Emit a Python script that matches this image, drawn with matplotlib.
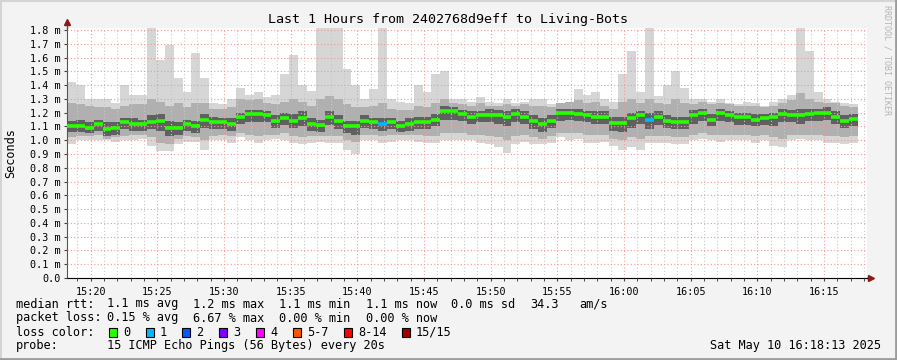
import matplotlib
matplotlib.use('Agg')
import matplotlib.pyplot as plt
from matplotlib.patches import Rectangle
from matplotlib.lines import Line2D
from matplotlib.ticker import FuncFormatter, FixedLocator
import numpy as np

# smokeping data, 40 s steps from 15:18:13, values in ms
median = [1.10, 1.10, 1.09, 1.12, 1.08, 1.09, 1.13, 1.12, 1.115, 1.13,
          1.14, 1.09, 1.09, 1.12, 1.10, 1.15, 1.13, 1.13, 1.12, 1.17,
          1.19, 1.19, 1.18, 1.14, 1.16, 1.14, 1.16, 1.12, 1.11, 1.17,
          1.14, 1.10, 1.10, 1.14, 1.13, 1.12, 1.13, 1.10, 1.12, 1.13,
          1.13, 1.15, 1.21, 1.21, 1.19, 1.17, 1.18, 1.185, 1.185, 1.17,
          1.19, 1.17, 1.14, 1.12, 1.14, 1.20, 1.20, 1.19, 1.18, 1.17,
          1.17, 1.125, 1.125, 1.16, 1.18, 1.15, 1.17, 1.14, 1.13, 1.13,
          1.18, 1.20, 1.15, 1.20, 1.18, 1.165, 1.165, 1.15, 1.16, 1.165,
          1.19, 1.18, 1.18, 1.19, 1.20, 1.20, 1.17, 1.14, 1.155]
loss = [0] * 89
loss[35] = 1
loss[65] = 1

ping_max = [1.42, 1.40, 1.30, 1.30, 1.30, 1.27, 1.40, 1.33, 1.33, 1.82,
            1.58, 1.69, 1.45, 1.35, 1.63, 1.45, 1.27, 1.26, 1.30, 1.38,
            1.33, 1.35, 1.31, 1.33, 1.48, 1.62, 1.40, 1.36, 1.82, 1.82,
            1.82, 1.52, 1.40, 1.30, 1.37, 1.82, 1.30, 1.28, 1.27, 1.40,
            1.35, 1.48, 1.50, 1.30, 1.30, 1.28, 1.31, 1.28, 1.27, 1.30,
            1.27, 1.28, 1.30, 1.30, 1.26, 1.27, 1.27, 1.37, 1.33, 1.35,
            1.30, 1.28, 1.48, 1.65, 1.35, 1.82, 1.32, 1.40, 1.50, 1.38,
            1.30, 1.30, 1.28, 1.30, 1.27, 1.26, 1.28, 1.27, 1.25, 1.28,
            1.30, 1.33, 1.82, 1.65, 1.35, 1.30, 1.28, 1.27, 1.26]
ping_min = [0.97, 1.00, 1.00, 1.00, 1.00, 0.99, 1.00, 1.00, 1.01, 0.96,
            0.92, 0.92, 0.97, 0.99, 0.99, 0.93, 1.00, 1.00, 0.98, 1.02,
            1.00, 0.98, 1.00, 1.01, 1.00, 0.98, 0.97, 0.98, 0.99, 0.98,
            0.98, 0.93, 0.90, 1.00, 1.00, 0.98, 0.99, 1.00, 1.00, 0.99,
            0.98, 0.98, 1.00, 1.00, 1.00, 1.00, 0.98, 0.97, 0.95, 0.91,
            0.97, 0.99, 0.97, 0.97, 0.98, 1.02, 1.00, 1.01, 0.98, 0.98,
            0.99, 0.96, 0.93, 0.95, 0.93, 0.98, 0.98, 0.98, 0.97, 0.97,
            1.00, 1.01, 1.00, 0.99, 1.00, 1.00, 1.00, 0.98, 1.00, 0.96,
            0.95, 1.00, 1.01, 1.00, 1.00, 0.98, 0.98, 0.97, 0.98]
mid_hi = [1.27, 1.26, 1.25, 1.24, 1.24, 1.23, 1.25, 1.26, 1.26, 1.30,
          1.28, 1.25, 1.27, 1.24, 1.27, 1.27, 1.23, 1.23, 1.24, 1.30,
          1.29, 1.30, 1.27, 1.26, 1.28, 1.30, 1.28, 1.25, 1.30, 1.32,
          1.30, 1.26, 1.24, 1.24, 1.25, 1.27, 1.23, 1.22, 1.22, 1.25,
          1.24, 1.27, 1.30, 1.27, 1.26, 1.25, 1.27, 1.25, 1.25, 1.26,
          1.25, 1.26, 1.25, 1.25, 1.24, 1.27, 1.28, 1.29, 1.27, 1.28,
          1.25, 1.23, 1.28, 1.30, 1.27, 1.30, 1.27, 1.26, 1.30, 1.27,
          1.26, 1.28, 1.26, 1.27, 1.26, 1.25, 1.25, 1.25, 1.24, 1.25,
          1.27, 1.29, 1.34, 1.30, 1.28, 1.27, 1.27, 1.25, 1.24]
mid_lo = [1.02, 1.03, 1.03, 1.04, 1.01, 1.02, 1.03, 1.04, 1.04, 1.02,
          0.98, 0.97, 1.01, 1.03, 1.02, 1.00, 1.03, 1.04, 1.03, 1.05,
          1.04, 1.03, 1.04, 1.04, 1.05, 1.03, 1.02, 1.03, 1.03, 1.03,
          1.03, 1.00, 0.99, 1.04, 1.04, 1.03, 1.04, 1.04, 1.04, 1.04,
          1.03, 1.03, 1.05, 1.05, 1.05, 1.04, 1.04, 1.03, 1.02, 1.00,
          1.03, 1.04, 1.02, 1.01, 1.03, 1.05, 1.05, 1.05, 1.04, 1.04,
          1.04, 1.01, 1.00, 1.02, 1.01, 1.03, 1.03, 1.03, 1.02, 1.02,
          1.04, 1.05, 1.04, 1.04, 1.04, 1.04, 1.04, 1.03, 1.04, 1.02,
          1.01, 1.04, 1.04, 1.04, 1.04, 1.03, 1.03, 1.02, 1.03]
core_hi = [1.14, 1.15, 1.13, 1.15, 1.13, 1.13, 1.16, 1.16, 1.15, 1.18,
           1.19, 1.14, 1.13, 1.15, 1.14, 1.19, 1.17, 1.16, 1.16, 1.20,
           1.22, 1.22, 1.21, 1.18, 1.20, 1.19, 1.21, 1.16, 1.15, 1.21,
           1.18, 1.14, 1.14, 1.18, 1.16, 1.16, 1.16, 1.14, 1.16, 1.17,
           1.17, 1.19, 1.25, 1.24, 1.22, 1.21, 1.21, 1.23, 1.22, 1.21,
           1.23, 1.21, 1.18, 1.16, 1.18, 1.23, 1.23, 1.23, 1.21, 1.21,
           1.21, 1.17, 1.17, 1.20, 1.21, 1.20, 1.21, 1.18, 1.17, 1.17,
           1.22, 1.23, 1.19, 1.23, 1.21, 1.20, 1.20, 1.19, 1.19, 1.20,
           1.23, 1.22, 1.23, 1.23, 1.23, 1.24, 1.21, 1.18, 1.19]
core_lo = [1.06, 1.06, 1.05, 1.07, 1.03, 1.04, 1.08, 1.07, 1.07, 1.08,
           1.07, 1.03, 1.04, 1.07, 1.05, 1.09, 1.08, 1.08, 1.07, 1.12,
           1.13, 1.13, 1.13, 1.09, 1.11, 1.09, 1.10, 1.07, 1.06, 1.11,
           1.08, 1.05, 1.04, 1.09, 1.08, 1.07, 1.08, 1.06, 1.07, 1.08,
           1.08, 1.10, 1.15, 1.15, 1.14, 1.12, 1.13, 1.13, 1.12, 1.10,
           1.13, 1.12, 1.08, 1.06, 1.09, 1.14, 1.15, 1.14, 1.13, 1.12,
           1.12, 1.07, 1.06, 1.09, 1.12, 1.08, 1.11, 1.09, 1.08, 1.08,
           1.12, 1.14, 1.10, 1.14, 1.13, 1.11, 1.11, 1.10, 1.11, 1.10,
           1.13, 1.13, 1.12, 1.14, 1.14, 1.15, 1.12, 1.09, 1.10]

loss_names = ['0', '1', '2', '3', '4', '5-7', '8-14', '15/15']
loss_colors = ['#26ff00', '#00b8ff', '#0059ff', '#7e00ff', '#ff00ff',
               '#ff5500', '#ff0000', '#a10000']

start = 18 + 13 / 60.0   # minutes after 15:00
step = 40 / 60.0

W, H = 897, 360
plt.rcParams['font.family'] = 'DejaVu Sans Mono'

fig = plt.figure(figsize=(W / 100, H / 100), dpi=100, facecolor='#f3f3f3')
ax = fig.add_axes([67 / W, 1 - 278 / H, 800 / W, 250 / H])
ax.set_facecolor('white')

x = start + step * np.arange(len(median))
med = np.array(median)

def band(lo, hi, color):
    lo = np.array(lo)
    hi = np.array(hi)
    ax.bar(x, hi - lo, bottom=lo, width=step, align='edge', color=color,
           linewidth=0, zorder=1)

band(ping_min, ping_max, '#d6d6d6')
band(mid_lo, mid_hi, '#b0b0b0')
band(core_lo, core_hi, '#606060')

cols = [loss_colors[l] for l in loss]
ax.hlines(med, x, x + step, colors=cols, linewidth=2.6, zorder=4)

ax.set_xlim(start, start + 60)
ax.set_ylim(0, 250 / 137.8)

ax.xaxis.set_major_locator(FixedLocator(np.arange(20, 80, 5)))
ax.xaxis.set_minor_locator(FixedLocator(np.arange(19, 79, 1)))
ax.xaxis.set_major_formatter(FuncFormatter(
    lambda v, p: '%d:%02d' % (15 + int(round(v)) // 60, int(round(v)) % 60)))
ax.yaxis.set_major_locator(FixedLocator(np.arange(0, 1.85, 0.1)))
ax.yaxis.set_major_formatter(FuncFormatter(
    lambda v, p: '0.0' if abs(v) < 1e-9 else '%.1f m' % v))

ax.set_axisbelow(False)
ax.grid(which='minor', axis='x', color='#c8c8c8', linestyle=(0, (1, 2)), linewidth=0.8)
ax.grid(which='major', axis='x', color='#f09a9a', linestyle=(0, (1, 2)), linewidth=0.8)
ax.grid(which='major', axis='y', color='#f09a9a', linestyle=(0, (1, 2)), linewidth=0.8)

ax.tick_params(axis='both', which='major', direction='out', length=2.5, width=0.8,
               color='#444444', labelsize=7.3, pad=2)
ax.tick_params(axis='x', which='major', pad=4)
ax.tick_params(axis='x', which='minor', direction='out', length=1.8, width=0.7,
               color='#444444')

for s in ['top', 'right']:
    ax.spines[s].set_visible(False)
ax.spines['left'].set_color('#555555')
ax.spines['bottom'].set_color('#000000')

# axis arrows
ax.plot([0, 0], [1, 1.025], transform=ax.transAxes, color='#555555', lw=1.0, clip_on=False)
ax.plot([1, 1.004], [0, 0], transform=ax.transAxes, color='#000000', lw=1.0, clip_on=False)
ax.plot([0], [1.025], marker='^', markersize=4, color='#8b1a1a', transform=ax.transAxes, clip_on=False)
ax.plot([1.005], [0], marker='>', markersize=4, color='#8b1a1a', transform=ax.transAxes, clip_on=False)

ax.set_ylabel('Seconds', fontsize=8.6)
ax.yaxis.set_label_coords(-50 / 800, 0.5)

def px(xp, yp):
    return xp / W, 1 - yp / H

fig.text(*px(448, 19), 'Last 1 Hours from 2402768d9eff to Living-Bots',
         ha='center', va='center', fontsize=9.6)
fig.text(*px(887, 60), 'RRDTOOL / TOBI OETIKER', rotation=270, color='#b4b4b4',
         ha='center', va='center', fontsize=6)

rows = [
    (304, [(16, 'median rtt:'), (107, '1.1 ms avg'), (193, '1.2 ms max'),
           (279, '1.1 ms min'), (366, '1.1 ms now'), (451, '0.0 ms sd'),
           (530, '34.3'), (579, 'am/s')]),
    (318, [(16, 'packet loss:'), (107, '0.15 % avg'), (193, '6.67 % max'),
           (279, '0.00 % min'), (366, '0.00 % now')]),
    (332, [(16, 'loss color:')]),
    (346, [(16, 'probe:'), (107, '15 ICMP Echo Pings (56 Bytes) every 20s')]),
]
for yp, items in rows:
    for xp, t in items:
        fig.text(*px(xp, yp), t, ha='left', va='center', fontsize=8.6)

box_x = [109, 146, 182, 219, 256, 293, 344, 402]
for bx, name, c in zip(box_x, loss_names, loss_colors):
    fig.add_artist(Rectangle(px(bx, 337), 8 / W, 9 / H, facecolor=c,
                             edgecolor='black', linewidth=0.8,
                             transform=fig.transFigure))
    fig.text(*px(bx + 14, 332), name, ha='left', va='center', fontsize=8.6)

fig.text(*px(881, 346), 'Sat May 10 16:18:13 2025', ha='right', va='center', fontsize=8.6)

# frame like rrdtool's shadow border
fig.add_artist(Line2D([0, 1], [1 - 0.5 / H, 1 - 0.5 / H], color='#d4d4d4', lw=1.5, transform=fig.transFigure))
fig.add_artist(Line2D([0.5 / W, 0.5 / W], [0, 1], color='#d4d4d4', lw=1.5, transform=fig.transFigure))
fig.add_artist(Line2D([1 - 1 / W, 1 - 1 / W], [0, 1], color='#9c9c9c', lw=2, transform=fig.transFigure))
fig.add_artist(Line2D([0, 1], [1 / H, 1 / H], color='#9c9c9c', lw=2, transform=fig.transFigure))

fig.savefig('out.png', dpi=100, facecolor=fig.get_facecolor())
